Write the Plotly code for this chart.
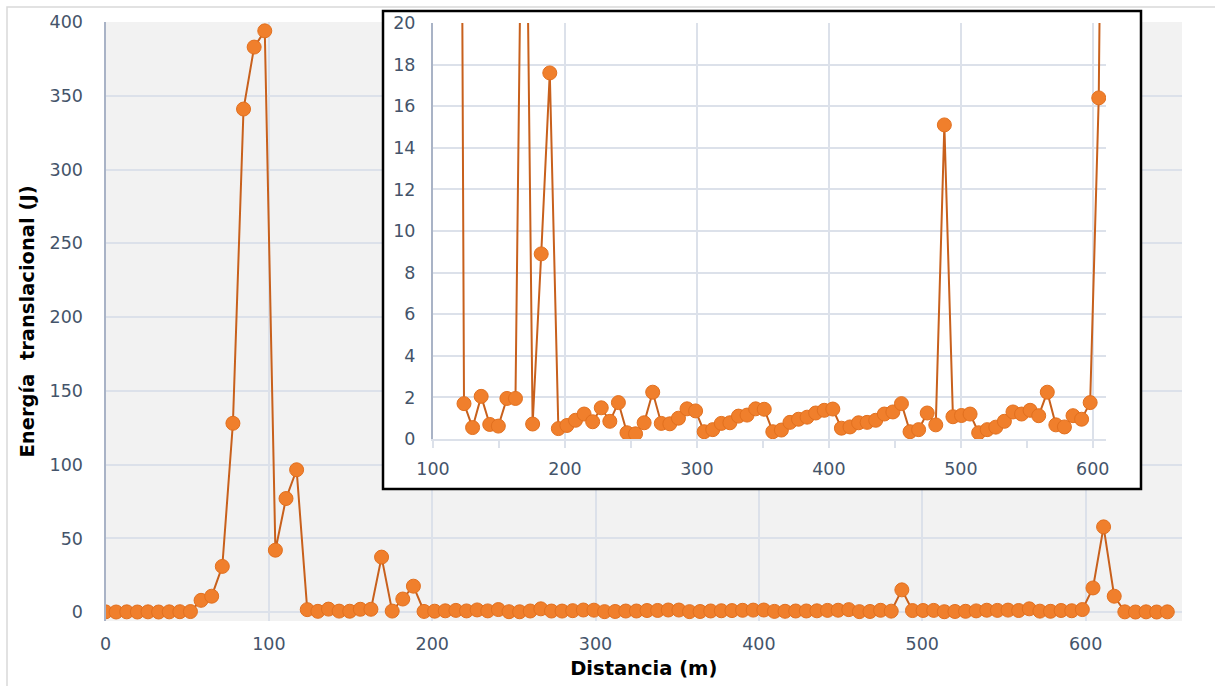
import plotly.graph_objects as go

# Distance along the path (m)
distancia_m = [0, 6.5, 13, 19.5, 26, 32.5, 39, 45.5, 52, 58.5, 65, 71.5, 78, 84.5, 91,
               97.5, 104, 110.5, 117, 123.5, 130, 136.5, 143, 149.5, 156, 162.5, 169,
               175.5, 182, 188.5, 195, 201.5, 208, 214.5, 221, 227.5, 234, 240.5, 247,
               253.5, 260, 266.5, 273, 279.5, 286, 292.5, 299, 305.5, 312, 318.5, 325,
               331.5, 338, 344.5, 351, 357.5, 364, 370.5, 377, 383.5, 390, 396.5, 403,
               409.5, 416, 422.5, 429, 435.5, 442, 448.5, 455, 461.5, 468, 474.5, 481,
               487.5, 494, 500.5, 507, 513.5, 520, 526.5, 533, 539.5, 546, 552.5, 559,
               565.5, 572, 578.5, 585, 591.5, 598, 604.5, 611, 617.5, 624, 630.5, 637,
               643.5, 650]

# Translational energy (J)
energia_j = [
    0.2, 0.1, 0.2, 0.1, 0.2, 0.1, 0.2, 0.3, 0.4,
    8.0, 10.8, 31.0, 128.0, 341.0, 383.0, 394.0, 42.0, 77.0, 96.5,
    1.7, 0.55, 2.05, 0.7, 0.62, 1.95, 1.95, 37.3, 0.72, 8.9,
    17.6, 0.5, 0.65, 0.9, 1.2, 0.83, 1.5, 0.85, 1.75, 0.3,
    0.25, 0.78, 2.25, 0.75, 0.73, 1.0, 1.45, 1.35, 0.35, 0.45,
    0.75, 0.78, 1.1, 1.15, 1.45, 1.43, 0.35, 0.43, 0.8, 0.95,
    1.05, 1.25, 1.38, 1.44, 0.52, 0.58, 0.78, 0.8, 0.9, 1.2,
    1.3, 1.7, 0.35, 0.45, 1.25, 0.68, 15.1, 1.07, 1.13, 1.2,
    0.3, 0.45, 0.57, 0.85, 1.3, 1.2, 1.38, 1.12, 2.25, 0.68,
    0.58, 1.12, 0.95, 1.75, 16.4, 57.8, 10.8, 0.2, 0.1, 0.2,
    0.1, 0.2,
]

main_xticks = [0, 100, 200, 300, 400, 500, 600]
main_yticks = [0, 50, 100, 150, 200, 250, 300, 350, 400]
zoom_xticks = [100, 200, 300, 400, 500, 600]
zoom_yticks = [0, 2, 4, 6, 8, 10, 12, 14, 16, 18, 20]

W, H = 1215, 686
LINE_C = "#C8601C"
MARK_C = "#F07F2C"
MARK_EDGE = "#E2701F"
GRID_C = "#DCE1EA"
AXIS_C = "#A9B3C6"
TICK_C = "#44546A"
TICK_FONT = dict(family="DejaVu Sans", size=17.5, color=TICK_C)
TITLE_FONT = dict(family="DejaVu Sans", size=19.5, color="black")


def px_x(p):
    return p / W


def px_y(p):
    return 1 - p / H


main_dom_x = [px_x(105.5), px_x(1182)]
main_dom_y = [px_y(621), px_y(22)]
box_dom_x = [px_x(383), px_x(1141)]
box_dom_y = [px_y(489), px_y(11)]
zoom_dom_x = [px_x(433), px_x(1106)]
zoom_dom_y = [px_y(439), px_y(23)]

series_style = dict(
    mode="lines+markers",
    line=dict(color=LINE_C, width=2),
    marker=dict(symbol="circle", size=14, color=MARK_C,
                line=dict(color=MARK_EDGE, width=1)),
    showlegend=False,
)

fig = go.Figure()

# Full-range series
fig.add_trace(go.Scatter(x=distancia_m, y=energia_j, xaxis="x", yaxis="y",
                         **series_style))

# Empty subplot that only provides the white panel behind the zoomed view
fig.add_trace(go.Scatter(x=[None], y=[None], xaxis="x2", yaxis="y2",
                         showlegend=False, hoverinfo="skip"))

# Zoomed view of the low-energy range
fig.add_trace(go.Scatter(x=distancia_m, y=energia_j, xaxis="x3", yaxis="y3",
                         cliponaxis=True, **series_style))

fig.update_layout(
    width=W, height=H,
    margin=dict(l=0, r=0, t=0, b=0),
    paper_bgcolor="white",
    plot_bgcolor="white",
    xaxis=dict(
        domain=main_dom_x, anchor="y", range=[0, 659],
        tickvals=main_xticks, ticks="", showline=False, zeroline=False,
        showgrid=True, gridcolor=GRID_C, gridwidth=2,
        tickfont=TICK_FONT, ticklabelstandoff=10,
        title=dict(text="<b>Distancia (m)</b>", font=TITLE_FONT, standoff=8),
        automargin=False,
    ),
    yaxis=dict(
        domain=main_dom_y, anchor="x", range=[-6, 400],
        tickvals=main_yticks, ticks="", zeroline=False,
        showline=True, linecolor=AXIS_C, linewidth=2,
        showgrid=True, gridcolor=GRID_C, gridwidth=2,
        tickfont=TICK_FONT, ticklabelstandoff=17,
        title=dict(text="<b>Energía\u00a0 translacional (J)</b>", font=TITLE_FONT,
                   standoff=10),
        automargin=False,
    ),
    xaxis2=dict(domain=box_dom_x, anchor="y2", range=[0, 1], visible=False),
    yaxis2=dict(domain=box_dom_y, anchor="x2", range=[0, 1], visible=False),
    xaxis3=dict(
        domain=zoom_dom_x, anchor="y3", range=[100, 610],
        tickvals=zoom_xticks, ticks="outside", ticklen=7, tickcolor=GRID_C,
        tickwidth=2,
        minor=dict(dtick=50, tick0=0, ticks="outside", ticklen=7,
                   tickcolor=GRID_C, tickwidth=2, showgrid=False),
        showline=True, linecolor=GRID_C, linewidth=2, zeroline=False,
        showgrid=True, gridcolor=GRID_C, gridwidth=2,
        tickfont=TICK_FONT, ticklabelstandoff=6, automargin=False,
    ),
    yaxis3=dict(
        domain=zoom_dom_y, anchor="x3", range=[0, 20],
        tickvals=zoom_yticks, ticks="", zeroline=False,
        showline=True, linecolor=AXIS_C, linewidth=2,
        showgrid=True, gridcolor=GRID_C, gridwidth=2,
        tickfont=TICK_FONT, ticklabelstandoff=12, automargin=False,
    ),
    shapes=[
        # grey plotting area of the full-range chart
        dict(type="rect", xref="paper", yref="paper", layer="below",
             x0=main_dom_x[0], x1=main_dom_x[1], y0=main_dom_y[0], y1=main_dom_y[1],
             fillcolor="#F2F2F2", line=dict(width=0)),
        # outer chart border
        dict(type="rect", xref="paper", yref="paper", layer="above",
             x0=px_x(7), x1=px_x(1230), y0=px_y(700), y1=px_y(7),
             fillcolor="rgba(0,0,0,0)", line=dict(color="#D9D9D9", width=1.5)),
        # frame around the zoomed view
        dict(type="rect", xref="paper", yref="paper", layer="above",
             x0=box_dom_x[0], x1=box_dom_x[1], y0=box_dom_y[0], y1=box_dom_y[1],
             fillcolor="rgba(0,0,0,0)", line=dict(color="black", width=2.5)),
    ],
)

fig.write_html("out.html")
